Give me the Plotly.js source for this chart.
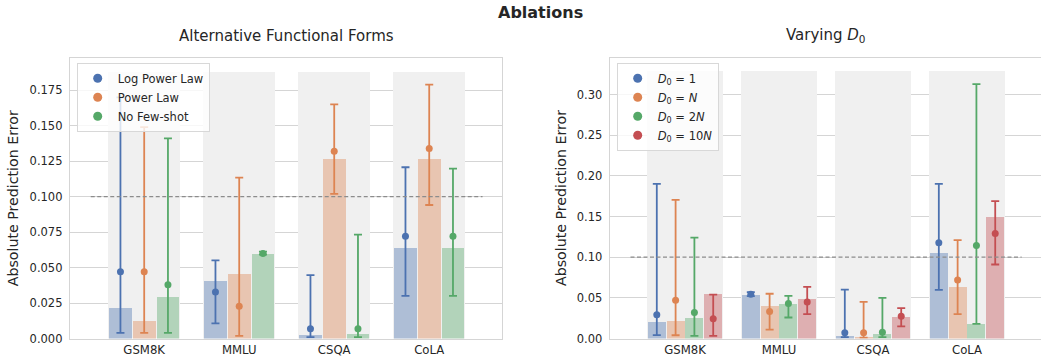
<!DOCTYPE html>
<html>
<head>
<meta charset="utf-8">
<script src="https://cdn.plot.ly/plotly-3.0.1.min.js"></script>
<style>html,body{margin:0;padding:0;background:#fff;} #chart{width:1041px;height:358px;}</style>
</head>
<body>
<div id="chart"></div>
<script>
// ---------- data ----------
const categories = ["GSM8K", "MMLU", "CSQA", "CoLA"];

// Left panel: Alternative Functional Forms
const leftNames = ["Log Power Law", "Power Law", "No Few-shot"];
const leftBar_LogPower = [0.0216, 0.0405, 0.0024, 0.0635];
const leftMean_LogPower = [0.047, 0.0327, 0.0068, 0.072];
const leftLow_LogPower = [0.004, 0.0106, 0.001, 0.030];
const leftHigh_LogPower = [0.170, 0.055, 0.0447, 0.1207];

const leftBar_Power = [0.0122, 0.0454, 0.1264, 0.1264];
const leftMean_Power = [0.047, 0.0228, 0.132, 0.1339];
const leftLow_Power = [0.004, 0.0019, 0.1019, 0.0941];
const leftHigh_Power = [0.149, 0.1134, 0.165, 0.179];

const leftBar_NoFew = [0.0292, 0.0595, 0.003, 0.0635];
const leftMean_NoFew = [0.0379, 0.060, 0.0068, 0.072];
const leftLow_NoFew = [0.004, 0.0592, 0.001, 0.030];
const leftHigh_NoFew = [0.141, 0.0612, 0.0732, 0.1198];

// Right panel: Varying D0
const rightNames = ["<i>D</i><sub>0</sub> = 1", "<i>D</i><sub>0</sub> = <i>N</i>", "<i>D</i><sub>0</sub> = 2<i>N</i>", "<i>D</i><sub>0</sub> = 10<i>N</i>"];
const rightBar_1 = [0.0201, 0.0537, 0.0029, 0.1053];
const rightMean_1 = [0.0291, 0.0545, 0.007, 0.1176];
const rightLow_1 = [0.0041, 0.052, 0.0016, 0.0598];
const rightHigh_1 = [0.190, 0.057, 0.060, 0.190];

const rightBar_N = [0.0213, 0.040, 0.0016, 0.0635];
const rightMean_N = [0.047, 0.0332, 0.007, 0.072];
const rightLow_N = [0.004, 0.011, 0.001, 0.030];
const rightHigh_N = [0.1705, 0.055, 0.045, 0.121];

const rightBar_2N = [0.025, 0.043, 0.0057, 0.018];
const rightMean_2N = [0.032, 0.043, 0.0078, 0.1143];
const rightLow_2N = [0.0033, 0.0258, 0.0016, 0.018];
const rightHigh_2N = [0.124, 0.0525, 0.050, 0.3128];

const rightBar_10N = [0.0545, 0.049, 0.0266, 0.1496];
const rightMean_10N = [0.0242, 0.045, 0.0275, 0.129];
const rightLow_10N = [0.0033, 0.030, 0.0148, 0.091];
const rightHigh_10N = [0.054, 0.0635, 0.0373, 0.169];

const referenceLine = 0.1;
const leftTicks = [0, 0.025, 0.05, 0.075, 0.1, 0.125, 0.15, 0.175];
const rightTicks = [0, 0.05, 0.1, 0.15, 0.2, 0.25, 0.3];

// ---------- styling ----------
const colors = ["#4c72b0", "#dd8452", "#55a868", "#c44e52"];
const FONT = "DejaVu Sans, Verdana, sans-serif";
const TXT = "#262626";
const W = 1041, H = 358;

const leftSeries = [
  {bar: leftBar_LogPower, mean: leftMean_LogPower, lo: leftLow_LogPower, hi: leftHigh_LogPower},
  {bar: leftBar_Power, mean: leftMean_Power, lo: leftLow_Power, hi: leftHigh_Power},
  {bar: leftBar_NoFew, mean: leftMean_NoFew, lo: leftLow_NoFew, hi: leftHigh_NoFew}
];
const rightSeries = [
  {bar: rightBar_1, mean: rightMean_1, lo: rightLow_1, hi: rightHigh_1},
  {bar: rightBar_N, mean: rightMean_N, lo: rightLow_N, hi: rightHigh_N},
  {bar: rightBar_2N, mean: rightMean_2N, lo: rightLow_2N, hi: rightHigh_2N},
  {bar: rightBar_10N, mean: rightMean_10N, lo: rightLow_10N, hi: rightHigh_10N}
];

const idx = categories.map((_, i) => i);
const traces = [];

function panel(series, names, xa, ya, legendId, slot, barW, bandW) {
  const n = series.length;
  let maxHi = 0;
  series.forEach(s => s.hi.forEach(v => { if (v > maxHi) maxHi = v; }));
  // background bands
  traces.push({
    type: "bar", x: idx, y: idx.map(() => maxHi * 1.05), width: bandW,
    marker: {color: "#f0f0f0", line: {width: 0}}, xaxis: xa, yaxis: ya,
    showlegend: false, hoverinfo: "skip"
  });
  series.forEach((s, k) => {
    const off = (k - (n - 1) / 2) * slot;
    const xs = idx.map(i => i + off);
    traces.push({
      type: "bar", x: xs, y: s.bar, width: barW,
      marker: {color: colors[k], opacity: 0.4, line: {width: 0}},
      xaxis: xa, yaxis: ya, showlegend: false, hoverinfo: "skip"
    });
  });
  series.forEach((s, k) => {
    const off = (k - (n - 1) / 2) * slot;
    const xs = idx.map(i => i + off);
    traces.push({
      type: "scatter", mode: "markers", x: xs, y: s.mean, name: names[k],
      marker: {color: colors[k], size: 7},
      error_y: {type: "data", symmetric: false,
        array: s.hi.map((h, i) => h - s.mean[i]),
        arrayminus: s.lo.map((l, i) => s.mean[i] - l),
        color: colors[k], thickness: 1.8, width: 4},
      xaxis: xa, yaxis: ya, showlegend: false, cliponaxis: false
    });
  });
  // legend entries (slightly larger markers, as in the reference legend)
  series.forEach((s, k) => {
    traces.push({
      type: "scatter", mode: "markers", x: [null], y: [null], name: names[k],
      marker: {color: colors[k], size: 9}, xaxis: xa, yaxis: ya, legend: legendId
    });
  });
}

panel(leftSeries, leftNames, "x", "y", "legend", 0.25, 0.24, 0.755);
panel(rightSeries, rightNames, "x2", "y2", "legend2", 0.2, 0.19, 0.81);

// geometry (pixels)
const yBot = 338.5, yTop = 58.3;
const L = {x0: 70, x1: 502}, R = {x0: 609.8, x1: 1041};
const pyBot = (H - yBot) / H, pyTop = (H - yTop) / H;

const gridC = "#d5d5d5";
function xaxisCfg(dom, rng, anchor) {
  return {domain: dom, range: rng, anchor: anchor, tickvals: idx, ticktext: categories,
    showgrid: false, zeroline: false, showline: true, linecolor: gridC, linewidth: 1.2, mirror: true,
    ticks: "", tickfont: {family: FONT, size: 11.7, color: TXT}, fixedrange: true};
}
function yaxisCfg(dom, rng, anchor, tv, fmt, mirror) {
  return {domain: dom, range: rng, anchor: anchor, tickvals: tv, tickformat: fmt,
    showgrid: true, gridcolor: gridC, gridwidth: 1, zeroline: false,
    showline: true, linecolor: gridC, linewidth: 1.2, mirror: mirror,
    ticks: "", ticklabelstandoff: 4, tickfont: {family: FONT, size: 11.5, color: TXT}, fixedrange: true};
}

const layout = {
  width: W, height: H, margin: {l: 0, r: 0, t: 0, b: 0},
  paper_bgcolor: "#ffffff", plot_bgcolor: "#ffffff",
  barmode: "overlay", bargap: 0,
  font: {family: FONT, color: TXT},
  xaxis: xaxisCfg([L.x0 / W, L.x1 / W], [-0.781, 3.766], "y"),
  yaxis: yaxisCfg([pyBot, pyTop], [0, 0.1975], "x", leftTicks, ".3f", true),
  xaxis2: xaxisCfg([R.x0 / W, R.x1 / W], [-0.8, 3.787], "y2"),
  yaxis2: yaxisCfg([pyBot, pyTop], [0, 0.3445], "x2", rightTicks, ".2f", false),
  legend: {x: 76.7 / W, y: 1 - 62.8 / H, xanchor: "left", yanchor: "top",
    bgcolor: "rgba(255,255,255,0.8)", bordercolor: "#d8d8d8", borderwidth: 1,
    font: {family: FONT, size: 11.5, color: TXT}, tracegroupgap: 0},
  legend2: {x: 616.7 / W, y: 1 - 62.8 / H, xanchor: "left", yanchor: "top",
    bgcolor: "rgba(255,255,255,0.8)", bordercolor: "#d8d8d8", borderwidth: 1,
    font: {family: FONT, size: 11.5, color: TXT}, tracegroupgap: 0},
  shapes: [
    {type: "line", xref: "x domain", yref: "y", x0: 0.048, x1: 0.955, y0: referenceLine, y1: referenceLine,
      line: {color: "#8c8c8c", width: 1.3, dash: "4px,2.5px"}},
    {type: "line", xref: "x2 domain", yref: "y2", x0: 0.048, x1: 0.955, y0: referenceLine, y1: referenceLine,
      line: {color: "#8c8c8c", width: 1.3, dash: "4px,2.5px"}}
  ],
  annotations: [
    {text: "<b>Ablations</b>", xref: "paper", yref: "paper", x: 540 / W, y: 1 - 13 / H,
      xanchor: "center", yanchor: "middle", showarrow: false, font: {family: FONT, size: 16, color: TXT}},
    {text: "Alternative Functional Forms", xref: "paper", yref: "paper", x: 286 / W, y: 1 - 35.7 / H,
      xanchor: "center", yanchor: "middle", showarrow: false, font: {family: FONT, size: 15, color: TXT}},
    {text: "Varying <i>D</i><sub>0</sub>", xref: "paper", yref: "paper", x: 825.5 / W, y: 1 - 35.7 / H,
      xanchor: "center", yanchor: "middle", showarrow: false, font: {family: FONT, size: 15, color: TXT}},
    {text: "Absolute Prediction Error", xref: "paper", yref: "paper", x: 13.3 / W, y: 1 - 198 / H,
      xanchor: "center", yanchor: "middle", textangle: -90, showarrow: false, font: {family: FONT, size: 14.2, color: TXT}},
    {text: "Absolute Prediction Error", xref: "paper", yref: "paper", x: 561 / W, y: 1 - 198 / H,
      xanchor: "center", yanchor: "middle", textangle: -90, showarrow: false, font: {family: FONT, size: 14.2, color: TXT}}
  ]
};

Plotly.newPlot("chart", traces, layout, {displayModeBar: false, staticPlot: true});
</script>
</body>
</html>
